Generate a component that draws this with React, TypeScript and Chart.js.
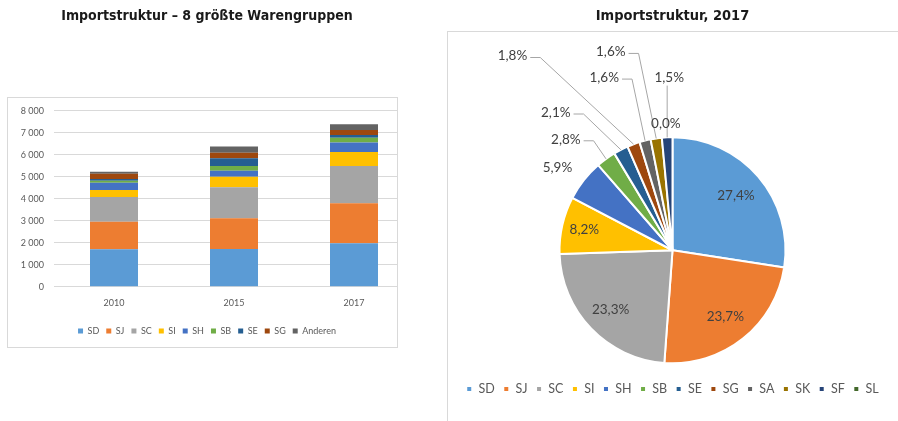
import React, { useEffect, useRef } from 'react';
import { Chart, registerables } from 'chart.js';

Chart.register(...registerables);

// ---------- data: stacked bar chart ----------
const barYears = ['2010', '2015', '2017'];
const barGroups = ['SD', 'SJ', 'SC', 'SI', 'SH', 'SB', 'SE', 'SG', 'Anderen'];
const sdValues = [1700, 1710, 1970];
const sjValues = [1250, 1400, 1820];
const scValues = [1130, 1410, 1700];
const siValues = [320, 480, 630];
const shValues = [330, 270, 430];
const sbValues = [90, 220, 220];
const seValues = [80, 350, 120];
const sgValues = [230, 250, 230];
const anderenValues = [100, 280, 260];
const yTickValues = [0, 1000, 2000, 3000, 4000, 5000, 6000, 7000, 8000];

// ---------- data: pie chart ----------
const pieGroups = ['SD', 'SJ', 'SC', 'SI', 'SH', 'SB', 'SE', 'SG', 'SA', 'SK', 'SF', 'SL'];
const pieShares = [27.4, 23.7, 23.3, 8.2, 5.9, 2.8, 2.1, 1.8, 1.6, 1.6, 1.5, 0.0];

// ---------- styles ----------
const barSeries = [sdValues, sjValues, scValues, siValues, shValues, sbValues, seValues, sgValues, anderenValues];
const barColors = ['#5B9BD5', '#ED7D31', '#A5A5A5', '#FFC000', '#4472C4', '#70AD47', '#255E91', '#9E480E', '#636363'];
const pieColors = ['#5B9BD5', '#ED7D31', '#A5A5A5', '#FFC000', '#4472C4', '#70AD47', '#255E91', '#9E480E', '#636363', '#997300', '#264478', '#43682B'];

const TITLE_FONT = '"Liberation Sans Narrow", "DejaVu Sans Condensed", Lato, sans-serif';
const BODY_FONT = 'Lato, "Open Sans", sans-serif';

// label layout for pie: inside labels at fraction of radius, outside labels at offset (in radius units)
type LabelLayout = { inside?: number; dx?: number; dy?: number; leader?: 'h' | 'v' | 'none' };
const pieLabelLayout: LabelLayout[] = [
  { inside: 0.74 },
  { inside: 0.75 },
  { inside: 0.76 },
  { inside: 0.8 },
  { dx: -1.018, dy: -0.732, leader: 'none' },
  { dx: -0.944, dy: -0.982, leader: 'h' },
  { dx: -1.033, dy: -1.219, leader: 'h' },
  { dx: -1.416, dy: -1.719, leader: 'h' },
  { dx: -0.604, dy: -1.528, leader: 'h' },
  { dx: -0.546, dy: -1.755, leader: 'h' },
  { dx: -0.029, dy: -1.528, leader: 'v' },
  { dx: -0.059, dy: -1.121, leader: 'none' },
];

const fmtPct = (v: number) => v.toFixed(1).replace('.', ',') + '%';
const fmtThousands = (v: number) => String(v).replace(/\B(?=(\d{3})+(?!\d))/g, ' ');

const pieLabelPlugin = {
  id: 'pieLabels',
  afterDatasetsDraw(chart: any) {
    const meta = chart.getDatasetMeta(0);
    const ctx = chart.ctx as CanvasRenderingContext2D;
    ctx.save();
    ctx.font = `13.5px ${BODY_FONT}`;
    ctx.textAlign = 'center';
    ctx.textBaseline = 'middle';
    meta.data.forEach((arc: any, i: number) => {
      const { x, y, startAngle, endAngle, outerRadius } = arc.getProps(
        ['x', 'y', 'startAngle', 'endAngle', 'outerRadius'],
        true
      );
      const mid = (startAngle + endAngle) / 2;
      const text = fmtPct(pieShares[i]);
      const lay = pieLabelLayout[i];
      let lx: number;
      let ly: number;
      if (lay.inside !== undefined) {
        lx = x + Math.cos(mid) * outerRadius * lay.inside;
        ly = y + Math.sin(mid) * outerRadius * lay.inside;
      } else {
        lx = x + (lay.dx as number) * outerRadius;
        ly = y + (lay.dy as number) * outerRadius;
        const ex = x + Math.cos(mid) * outerRadius;
        const ey = y + Math.sin(mid) * outerRadius;
        ctx.strokeStyle = '#a6a6a6';
        ctx.lineWidth = 1;
        if (lay.leader === 'h') {
          const w = ctx.measureText(text).width;
          const sx = lx + w / 2 + 3;
          ctx.beginPath();
          ctx.moveTo(sx, ly + 1.5);
          ctx.lineTo(sx + 10, ly + 1.5);
          ctx.lineTo(ex, ey);
          ctx.stroke();
        } else if (lay.leader === 'v') {
          ctx.beginPath();
          ctx.moveTo(ex, ly + 8);
          ctx.lineTo(ex, ey);
          ctx.stroke();
        }
      }
      ctx.fillStyle = '#404040';
      ctx.fillText(text, lx, ly);
    });
    ctx.restore();
  },
};

export default function App() {
  const barRef = useRef<HTMLCanvasElement>(null);
  const pieRef = useRef<HTMLCanvasElement>(null);

  useEffect(() => {
    const bar = new Chart(barRef.current as HTMLCanvasElement, {
      type: 'bar',
      data: {
        labels: barYears,
        datasets: barGroups.map((g, i) => ({
          label: g,
          data: barSeries[i],
          backgroundColor: barColors[i],
          borderWidth: 0,
          categoryPercentage: 1,
          barPercentage: 0.4,
        })),
      },
      options: {
        responsive: false,
        animation: false,
        layout: { padding: { top: 0, left: 0, right: 0, bottom: 4.5 } },
        plugins: {
          title: {
            display: true,
            text: 'Importstruktur – 8 größte Warengruppen',
            color: '#1a1a1a',
            font: { family: TITLE_FONT, size: 14, weight: 'bold' },
            padding: { top: 7.6, bottom: 86.3 },
          },
          legend: {
            position: 'bottom',
            labels: {
              boxWidth: 5,
              boxHeight: 5,
              padding: 7,
              color: '#595959',
              font: { family: BODY_FONT, size: 9 },
            },
          },
          tooltip: { enabled: false },
        },
        scales: {
          x: {
            stacked: true,
            grid: { display: false, drawTicks: false },
            border: { display: false },
            ticks: { padding: 11, color: '#595959', font: { family: BODY_FONT, size: 9 } },
            afterFit: (s: any) => {
              s.height = 32.8;
            },
          },
          y: {
            stacked: true,
            min: 0,
            max: 8000,
            afterBuildTicks: (s: any) => {
              s.ticks = yTickValues.map((v) => ({ value: v }));
            },
            ticks: {
              padding: 10,
              color: '#595959',
              font: { family: BODY_FONT, size: 9 },
              callback: (v: any) => fmtThousands(Number(v)),
            },
            grid: { color: '#d9d9d9', drawTicks: false },
            border: { display: false },
            afterFit: (s: any) => {
              s.width = 54;
            },
          },
        },
      },
    });

    const pie = new Chart(pieRef.current as HTMLCanvasElement, {
      type: 'pie',
      data: {
        labels: pieGroups,
        datasets: [
          {
            data: pieShares,
            backgroundColor: pieColors,
            borderColor: '#ffffff',
            borderWidth: 2,
            radius: 113,
          } as any,
        ],
      },
      options: {
        responsive: false,
        animation: false,
        layout: { padding: { bottom: 15.75 } },
        plugins: {
          title: {
            display: true,
            text: 'Importstruktur, 2017',
            color: '#1a1a1a',
            font: { family: TITLE_FONT, size: 14.5, weight: 'bold' },
            padding: { top: 7.3, bottom: 101.55 },
          },
          legend: {
            position: 'bottom',
            labels: {
              boxWidth: 6,
              boxHeight: 6,
              padding: 8.5,
              color: '#595959',
              font: { family: BODY_FONT, size: 12.5 },
            },
          },
          tooltip: { enabled: false },
        },
      },
      plugins: [pieLabelPlugin],
    });

    return () => {
      bar.destroy();
      pie.destroy();
    };
  }, []);

  return (
    <div
      style={{
        position: 'fixed',
        left: 0,
        top: 0,
        width: 898,
        height: 421,
        background: '#ffffff',
        overflow: 'hidden',
      }}
    >
      <div style={{ position: 'absolute', left: 0, top: 0, width: 397, height: 350, overflow: 'hidden' }}>
        <canvas ref={barRef} width={414} height={350} style={{ display: 'block', width: 414, height: 350 }} />
      </div>
      <div
        style={{
          position: 'absolute',
          left: 7,
          top: 97,
          width: 391,
          height: 251,
          border: '1px solid #d9d9d9',
          boxSizing: 'border-box',
          pointerEvents: 'none',
        }}
      />
      <div
        style={{
          position: 'absolute',
          left: 447,
          top: 31,
          width: 470,
          height: 420,
          border: '1px solid #d9d9d9',
          boxSizing: 'border-box',
          pointerEvents: 'none',
        }}
      />
      <div style={{ position: 'absolute', left: 447, top: 0, width: 451, height: 421 }}>
        <canvas ref={pieRef} width={451} height={421} style={{ display: 'block', width: 451, height: 421 }} />
      </div>
    </div>
  );
}
